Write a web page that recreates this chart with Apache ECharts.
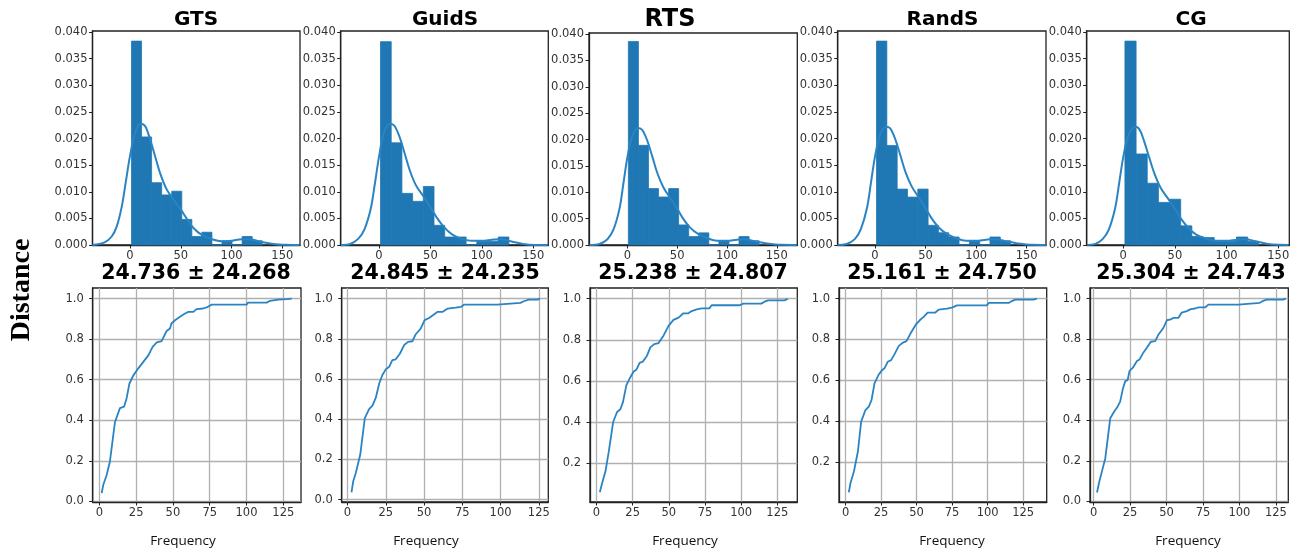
<!DOCTYPE html>
<html>
<head>
<meta charset="utf-8">
<script src="https://cdn.jsdelivr.net/npm/echarts@6/dist/echarts.min.js"></script>
<style>
  html, body { margin: 0; padding: 0; background: #ffffff; }
  #chart { width: 1301px; height: 553px; }
</style>
</head>
<body>
<div id="chart"></div>
<script>
// ---- data -------------------------------------------------------------
const methods = ['GTS', 'GuidS', 'RTS', 'RandS', 'CG'];
const summaries = ['24.736 \u00b1 24.268', '24.845 \u00b1 24.235', '25.238 \u00b1 24.807', '25.161 \u00b1 24.750', '25.304 \u00b1 24.743'];
const yAxisName = 'Distance';
const xAxisName = 'Frequency';

// histogram bins: first edge and bin width per method, then densities
const binStart = [1.5, 1.5, 1.0, 1.5, 1.6];
const binWidth = [9.9, 10.4, 10.1, 10.2, 10.8];
const densGTS   = [0.0383, 0.0203, 0.0117, 0.0094, 0.0101, 0.0048, 0.0016, 0.0024, 0, 0.0008, 0, 0.0016, 0.0008];
const densGuidS = [0.0382, 0.0192, 0.0097, 0.0082, 0.0110, 0.0037, 0.0015, 0.0015, 0, 0.0007, 0.0007, 0.0015];
const densRTS   = [0.0386, 0.0189, 0.0107, 0.0091, 0.0107, 0.0038, 0.0016, 0.0023, 0, 0.0008, 0, 0.0016, 0.0008];
const densRandS = [0.0383, 0.0187, 0.0105, 0.0090, 0.0105, 0.0037, 0.0023, 0.0015, 0, 0.0008, 0, 0.0015, 0.0008];
const densCG    = [0.0383, 0.0171, 0.0116, 0.0080, 0.0086, 0.0036, 0.0016, 0.0014, 0.0007, 0.0007, 0.0015, 0.0007];

// kernel density estimate curves [distance, density]
const kdeGTS = [[-37,0],[-25,0.0005],[-18,0.0016],[-13,0.0035],[-8,0.0073],[-4,0.012],[0,0.0167],[5,0.021],[10.5,0.0228],[15,0.0223],[20,0.0197],[25,0.0165],[30,0.0133],[36,0.0105],[43,0.0085],[50,0.0067],[56,0.0049],[62.5,0.0032],[70.7,0.0019],[80.5,0.0011],[90.5,0.0007],[100,0.0008],[110,0.0011],[118,0.0011],[128,0.0006],[141,0.0002],[151,0.00003],[167,0]];
const kdeGuidS = [[-37,0],[-28,0.0002],[-20,0.0012],[-14,0.003],[-8,0.0068],[-4,0.0115],[0,0.0165],[5,0.0212],[11,0.0228],[15,0.0224],[20,0.0203],[25,0.0172],[30,0.014],[36,0.0112],[43,0.0092],[50,0.0071],[56,0.0052],[63,0.0034],[71,0.002],[80,0.0012],[90,0.0008],[100,0.0008],[110,0.001],[118,0.0011],[128,0.0007],[140,0.0002],[152,0.00002],[164,0]];
const kdeRTS = [[-38,0],[-28,0.0002],[-20,0.0011],[-14,0.0029],[-8,0.0068],[-4,0.0116],[0,0.0166],[5,0.0207],[11,0.0222],[15,0.0218],[20,0.0198],[25,0.0168],[30,0.0137],[36,0.011],[43,0.0089],[50,0.0069],[56,0.005],[63,0.0033],[71,0.0021],[80,0.0013],[90,0.0008],[100,0.0008],[110,0.001],[118,0.0011],[128,0.0007],[140,0.0003],[155,0.00003],[170,0]];
const kdeRandS = [[-37,0],[-28,0.0002],[-20,0.0011],[-14,0.003],[-8,0.0069],[-4,0.0117],[0,0.0166],[5,0.0207],[11,0.0222],[15,0.0219],[20,0.0199],[25,0.0169],[30,0.0138],[36,0.0111],[43,0.009],[50,0.0069],[56,0.005],[63,0.0033],[71,0.0021],[80,0.0013],[90,0.0008],[100,0.0008],[110,0.001],[119,0.0011],[129,0.0007],[141,0.0003],[155,0.00003],[169,0]];
const kdeCG = [[-35,0],[-27,0.0002],[-20,0.0011],[-14,0.0029],[-8,0.0068],[-4,0.0116],[0,0.0165],[5,0.0206],[12,0.0222],[16,0.0216],[20,0.0196],[25,0.0165],[30,0.0135],[36,0.0108],[43,0.0088],[50,0.0068],[56,0.0049],[63,0.0032],[71,0.0019],[80,0.0012],[90,0.0008],[100,0.0008],[110,0.001],[118,0.0011],[128,0.0007],[140,0.0002],[150,0.00003],[160,0]];

// cumulative distributions [distance, fraction]
const cdfGTS = [[1.6,0.041],[2.7,0.082],[5,0.13],[7.2,0.197],[10.6,0.39],[14,0.46],[16.8,0.467],[18.6,0.51],[20.4,0.58],[23,0.62],[26.5,0.656],[30,0.689],[33.3,0.72],[36.2,0.762],[39,0.784],[42.3,0.79],[45.7,0.84],[48,0.852],[49,0.877],[51.4,0.893],[54.8,0.91],[58.2,0.926],[60.5,0.934],[63.9,0.934],[66,0.948],[70.6,0.951],[72.9,0.956],[76.3,0.97],[100,0.97],[101,0.98],[113.7,0.98],[116,0.989],[121.6,0.995],[127.3,0.997],[130.7,1.0]];
const cdfGuidS = [[2.6,0.036],[3.7,0.09],[5.4,0.132],[8.3,0.223],[11.3,0.405],[14.1,0.45],[16.3,0.468],[18.5,0.507],[20.7,0.578],[22.8,0.62],[25,0.648],[27.2,0.661],[29.3,0.694],[31.5,0.698],[34.3,0.727],[37,0.769],[39.6,0.785],[42.4,0.788],[44.6,0.823],[47.8,0.851],[50.4,0.893],[53.3,0.904],[58.7,0.934],[62,0.934],[65.2,0.95],[70.7,0.955],[74,0.959],[76.1,0.97],[97.8,0.97],[98.9,0.979],[113,0.979],[115.2,0.987],[118.5,0.995],[124.3,0.995],[125.7,1.0]];
const cdfRTS = [[2.3,0.058],[3.9,0.103],[6.2,0.16],[8.5,0.257],[11.5,0.4],[14.2,0.449],[16.5,0.462],[18.3,0.497],[20.6,0.578],[23.4,0.618],[25.7,0.646],[27.5,0.654],[29.8,0.688],[32.1,0.694],[34.9,0.723],[37.2,0.763],[39.9,0.779],[42.9,0.784],[46.3,0.82],[49.8,0.868],[53.2,0.897],[56.7,0.908],[60.1,0.929],[63.5,0.929],[65.8,0.94],[69.3,0.948],[72.7,0.953],[78,0.953],[79.6,0.968],[99.1,0.968],[101.4,0.976],[114,0.976],[116.3,0.986],[118.6,0.992],[130,0.992],[132.3,1.0]];
const cdfRandS = [[2.3,0.052],[3.5,0.098],[5.9,0.154],[8.7,0.252],[11,0.398],[14,0.455],[16.4,0.472],[18.3,0.504],[20.4,0.585],[23.4,0.629],[25.7,0.65],[27.4,0.659],[29.7,0.691],[32.1,0.699],[34.4,0.727],[37.5,0.769],[40.5,0.785],[42.9,0.792],[45.7,0.829],[49.2,0.87],[52.2,0.894],[55,0.911],[57.8,0.932],[63.2,0.932],[65.6,0.946],[71.4,0.951],[74.9,0.956],[78.5,0.967],[99.5,0.967],[100.7,0.979],[114.8,0.979],[117.1,0.988],[119.4,0.995],[132.3,0.995],[134.7,1.0]];
const cdfCG = [[2.3,0.044],[3.9,0.098],[5.7,0.148],[8,0.213],[11.4,0.41],[14.1,0.443],[16.4,0.467],[18.2,0.492],[20.1,0.557],[21.7,0.593],[23.3,0.598],[24.6,0.643],[26.9,0.659],[29.7,0.692],[31.5,0.7],[33.8,0.73],[36.5,0.757],[39.2,0.787],[42.2,0.79],[44.5,0.823],[47.9,0.856],[50.2,0.893],[52.9,0.897],[54.7,0.905],[58.2,0.905],[60.4,0.931],[63.9,0.938],[66.6,0.948],[69.6,0.951],[71.9,0.956],[76.4,0.956],[78.7,0.97],[99.2,0.97],[100.4,0.979],[114,0.979],[116.3,0.989],[118.6,0.995],[130,0.995],[131.8,1.0]];

// axis tick values
const densTicks = [0, 0.005, 0.01, 0.015, 0.02, 0.025, 0.03, 0.035, 0.04];
const distTicksTop = [0, 50, 100, 150];
const distTicksBottom = [0, 25, 50, 75, 100, 125];
const fracTicks = [0, 0.2, 0.4, 0.6, 0.8, 1.0];

const densities = [densGTS, densGuidS, densRTS, densRandS, densCG];
const kdes = [kdeGTS, kdeGuidS, kdeRTS, kdeRandS, kdeCG];
const cdfs = [cdfGTS, cdfGuidS, cdfRTS, cdfRandS, cdfCG];

// ---- layout -----------------------------------------------------------
const topBoxes = [
  [92.5, 31, 207.5, 214], [340.7, 31, 207.6, 214], [589, 33, 208.3, 212],
  [837.7, 31, 208.3, 214], [1086.7, 31, 202.6, 214]
];
const bottomBoxes = [
  [92.7, 288, 208.3, 214], [341.7, 288, 206.6, 214], [590, 288, 207.3, 214],
  [839, 288, 207.7, 214], [1090, 288, 198.3, 214]
];
const topXRange = [[-36.9, 167.4], [-37.2, 164.6], [-38.5, 170.6], [-36.9, 169.1], [-35.4, 160.7]];
const bottomXRange = [[-4.5, 137], [-3.8, 131.2], [-4.5, 138.8], [-4.6, 141.6], [-2.5, 133.5]];
const bottomYRange = [[-0.003, 1.052], [-0.012, 1.053], [0.011, 1.052], [0.005, 1.052], [-0.003, 1.052]];
const titleX = [196, 445, 670, 942.5, 1191];
const titleSize = [20, 20, 24, 20, 20];
const summaryX = [196, 445, 693, 942, 1191];
const freqX = [183, 426, 685, 952, 1188];

const BLUE = '#1f77b4';
const LINE_BLUE = '#2a84c4';
const FRAME = '#222222';
const GRIDLINE = '#b0b0b0';
const LABEL = '#333333';
const SANS = '"DejaVu Sans", sans-serif';

const chart = echarts.init(document.getElementById('chart'), null, { renderer: 'canvas' });

const grids = [], xAxes = [], yAxes = [], series = [], graphics = [];

function inRange(vals, r) { return vals.filter(v => v >= r[0] - 1e-9 && v <= r[1] + 1e-9); }

function axisCommon(ticks, fmt, margin) {
  return {
    axisLine: { show: true, onZero: false, lineStyle: { color: FRAME, width: 1.3 } },
    axisTick: { show: true, inside: false, length: 3.5, customValues: ticks, lineStyle: { color: FRAME, width: 1 } },
    axisLabel: { show: true, customValues: ticks, formatter: fmt, margin: margin,
                 color: LABEL, fontFamily: SANS, fontSize: 11.5 },
  };
}

methods.forEach((name, i) => {
  // top: histogram + density curve
  const tb = topBoxes[i];
  grids.push({ left: tb[0], top: tb[1], width: tb[2], height: tb[3], show: true,
               borderColor: FRAME, borderWidth: 1.3, backgroundColor: '#fff' });
  const gTop = grids.length - 1;
  xAxes.push(Object.assign({ type: 'value', gridIndex: gTop, min: topXRange[i][0], max: topXRange[i][1],
    splitLine: { show: false } }, axisCommon(inRange(distTicksTop, topXRange[i]), v => String(v), 5)));
  yAxes.push(Object.assign({ type: 'value', gridIndex: gTop, min: 0, max: 0.0402,
    splitLine: { show: false } }, axisCommon(densTicks, v => v.toFixed(3), 5)));

  const bins = densities[i].map((d, k) => [binStart[i] + k * binWidth[i], binStart[i] + (k + 1) * binWidth[i], d]);
  series.push({
    type: 'custom', xAxisIndex: gTop, yAxisIndex: gTop, data: bins, z: 2,
    encode: { x: [0, 1], y: 2 },
    renderItem: (params, api) => {
      const p0 = api.coord([api.value(0), api.value(2)]);
      const p1 = api.coord([api.value(1), 0]);
      return { type: 'rect',
        shape: { x: p0[0], y: p0[1], width: p1[0] - p0[0], height: p1[1] - p0[1] },
        style: { fill: BLUE, stroke: BLUE, lineWidth: 0.8 } };
    }
  });
  series.push({
    type: 'line', xAxisIndex: gTop, yAxisIndex: gTop, data: kdes[i], smooth: 0.35,
    showSymbol: false, z: 3, lineStyle: { color: LINE_BLUE, width: 2 }, silent: true
  });

  // bottom: cumulative curve
  const bb = bottomBoxes[i];
  grids.push({ left: bb[0], top: bb[1], width: bb[2], height: bb[3], show: true,
               borderColor: FRAME, borderWidth: 1.3, backgroundColor: '#fff' });
  const gBot = grids.length - 1;
  xAxes.push(Object.assign({ type: 'value', gridIndex: gBot, min: bottomXRange[i][0], max: bottomXRange[i][1],
    splitLine: { show: true, lineStyle: { color: GRIDLINE, width: 1.3 } } },
    axisCommon(inRange(distTicksBottom, bottomXRange[i]), v => String(v), 5)));
  yAxes.push(Object.assign({ type: 'value', gridIndex: gBot, min: bottomYRange[i][0], max: bottomYRange[i][1],
    splitLine: { show: true, lineStyle: { color: GRIDLINE, width: 1.3 } } },
    axisCommon(inRange(fracTicks, bottomYRange[i]), v => v.toFixed(1), 9)));
  series.push({
    type: 'line', xAxisIndex: gBot, yAxisIndex: gBot, data: cdfs[i], showSymbol: false, z: 3,
    lineStyle: { color: LINE_BLUE, width: 1.8 }, silent: true
  });

  // panel texts
  graphics.push({ type: 'text', x: titleX[i], y: 20, style: { text: name, fill: '#000',
    font: 'bold ' + titleSize[i] + 'px ' + SANS, textAlign: 'center', textVerticalAlign: 'middle' } });
  graphics.push({ type: 'text', x: summaryX[i], y: 274, style: { text: summaries[i], fill: '#000',
    font: 'bold 20.5px ' + SANS, textAlign: 'center', textVerticalAlign: 'middle' } });
  graphics.push({ type: 'text', x: freqX[i], y: 541, style: { text: xAxisName, fill: '#111',
    font: '13.5px "Open Sans", sans-serif', textAlign: 'center', textVerticalAlign: 'middle' } });
});

graphics.push({ type: 'text', x: 22, y: 290, rotation: Math.PI / 2, style: { text: yAxisName, fill: '#000',
  font: 'bold 28px "Liberation Serif", serif', textAlign: 'center', textVerticalAlign: 'middle' } });

chart.setOption({
  animation: false,
  backgroundColor: '#ffffff',
  grid: grids,
  xAxis: xAxes,
  yAxis: yAxes,
  series: series,
  graphic: { elements: graphics }
});
</script>
</body>
</html>
